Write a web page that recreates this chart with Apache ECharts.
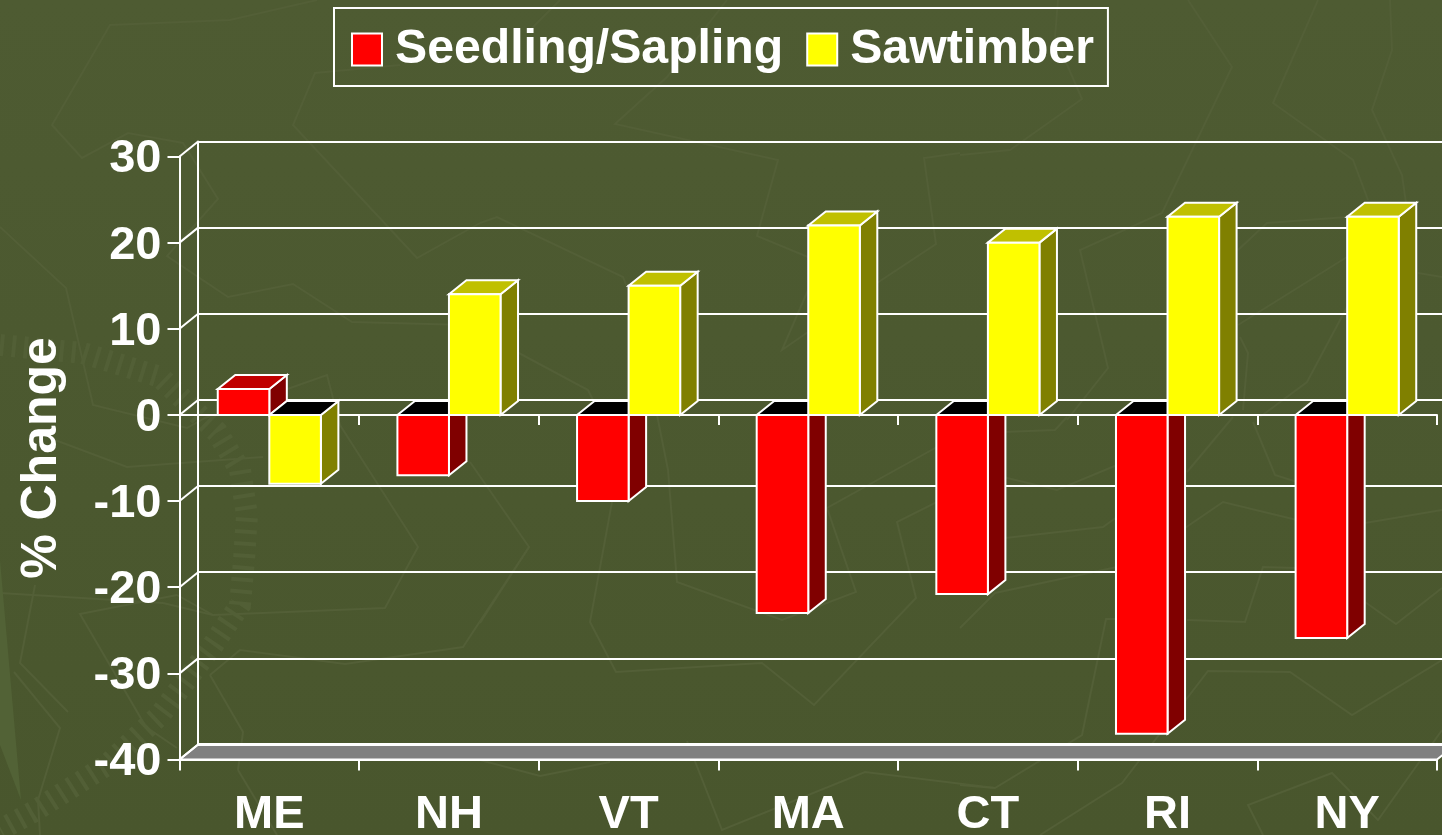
<!DOCTYPE html>
<html><head><meta charset="utf-8">
<style>html,body{margin:0;padding:0;background:#4b582f;overflow:hidden}#c{width:1442px;height:835px}</style>
<script src="https://cdn.jsdelivr.net/npm/echarts@6/dist/echarts.min.js"></script>
</head><body><div id="c"></div>
<script>
const categories = ['ME','NH','VT','MA','CT','RI','NY'];
const seedlingSapling = [3,-7,-10,-23,-20.8,-37,-25.9];
const sawtimber = [-8,14,15,22,20,23,23];
const yTicks = [30,20,10,0,-10,-20,-30,-40];

const FONT = '"Liberation Sans", Arial, sans-serif';
const DEPTH_X = 17.5, DEPTH_Y = 14;
const WALL_X = 18, WALL_Y = 14.5;
const LINE = 2;
const BAR_FRACTION = 0.287;

// Faint decorative lines of the slide background (not chart data)
const decoLines = [
 [[317,0],[230,20],[110,25],[52,125],[82,158],[128,133],[183,143],[218,199],[167,256],[228,297],[293,284],[352,322],[467,325],[520,330]],
 [[0,227],[66,288],[93,405],[187,428],[205,418],[327,375],[340,425],[418,547],[385,608],[213,615],[177,595]],
 [[55,440],[127,467],[263,457]],[[0,593],[163,603],[213,615]],
 [[177,595],[80,614],[146,727],[177,748]],
 [[35,585],[20,663],[68,712]],[[14,672],[60,728],[38,800],[40,835]],
 [[238,770],[243,732],[210,675]],[[238,770],[277,835]],
 [[210,675],[240,650],[345,664],[463,647],[529,547],[470,462]],
 [[529,547],[480,623]],
 [[612,502],[590,622],[616,672],[762,663],[814,705],[916,598],[897,522],[937,502]],
 [[657,415],[668,470],[677,582],[782,620],[856,592],[827,508],[937,447]],
 [[480,760],[540,776],[610,762]],[[687,741],[722,830],[865,772],[995,788],[1082,735],[1106,619],[1117,619]],
 [[960,785],[995,788]],
 [[1040,835],[1122,783],[1208,671],[1290,672],[1352,715],[1442,660]],
 [[1263,835],[1248,805],[1332,773],[1378,820],[1442,730]],
 [[960,628],[995,593],[1117,567]],[[1005,538],[1103,527],[1117,517]],
 [[1003,477],[1057,490],[1117,465]],[[1003,432],[1055,430],[1067,417]],
 [[1185,528],[1223,502],[1297,520]],[[1365,523],[1442,510]],
 [[1187,472],[1233,417]],[[1253,422],[1275,475],[1297,482]],
 [[1187,620],[1245,622],[1263,567],[1297,568]],[[1365,602],[1396,624],[1442,588]],
 [[1188,0],[1232,67],[1162,213],[1080,250],[1108,368],[1067,420]],
 [[1318,0],[1273,103],[1353,160],[1368,200]],
 [[1390,0],[1392,50],[1372,110],[1402,175],[1406,203]],
 [[1058,0],[1055,37],[1082,99],[1010,150],[960,155]],
 [[1238,250],[1267,223],[1347,217]],[[1238,325],[1347,257]],
 [[1240,337],[1248,353],[1243,410]],[[1260,417],[1307,382],[1347,307]],[[1418,273],[1442,277]],
 [[727,0],[667,77],[615,124],[778,160],[757,236],[808,257]],[[560,0],[530,30]],
 [[960,153],[924,158],[936,244],[877,283]],[[808,290],[782,350],[808,332]],
 [[480,223],[497,217],[623,277],[628,290]],[[517,352],[588,390],[593,400]],
 [[400,65],[315,73],[293,125],[417,258],[480,223]]
];
const decoHatch = [[0,345],[83,353],[160,377],[217,432],[240,470],[247,515],[244,560],[240,605],[213,645],[160,715],[107,765],[33,812],[0,830]];

const decoGraphic = decoLines.map(points => ({
  type:'polyline', silent:true, z:-5,
  shape:{points}, style:{stroke:'#535f37',lineWidth:2,fill:null}
}));
decoGraphic.push({type:'polyline',silent:true,z:-5,shape:{points:decoHatch},
  style:{stroke:'#525f36',lineWidth:22,lineDash:[4,8],fill:null}});
decoGraphic.push({type:'polygon',silent:true,z:-5,shape:{points:[[0,560],[21,800],[0,745]]},
  style:{fill:'#526236'}});

function barSeries(name, values, front, side, top, slot){
  return {
    name, type:'custom', xAxisIndex:0, yAxisIndex:0, z:3,
    itemStyle:{color:front},
    data: values.map((v,i)=>[i,v]),
    renderItem(params, api){
      const i = api.value(0), v = api.value(1);
      const band = api.size([1,0])[0];
      const w = band*BAR_FRACTION;
      const xc = api.coord([i,0])[0];
      const x0 = slot===0 ? xc-w : xc, x1 = x0+w;
      const y0 = api.coord([i,0])[1], yv = api.coord([i,v])[1];
      const yTop = Math.min(y0,yv), yBot = Math.max(y0,yv);
      const stroke = {stroke:'#fff',lineWidth:LINE,lineJoin:'miter'};
      const poly = (points,fill)=>({type:'polygon',shape:{points},style:Object.assign({fill},stroke)});
      return {type:'group',children:[
        poly([[x1,yBot],[x1+DEPTH_X,yBot-DEPTH_Y],[x1+DEPTH_X,yTop-DEPTH_Y],[x1,yTop]],side),
        poly([[x0,yTop],[x0+DEPTH_X,yTop-DEPTH_Y],[x1+DEPTH_X,yTop-DEPTH_Y],[x1,yTop]], v<0?'#000':top),
        poly([[x0,yTop],[x1,yTop],[x1,yBot],[x0,yBot]],front)
      ]};
    }
  };
}

const wallSeries = {
  name:'walls', type:'custom', xAxisIndex:0, yAxisIndex:0, z:1, silent:true,
  data: yTicks.map(v=>[0,v]),
  renderItem(params, api){
    const v = api.value(1);
    const cs = params.coordSys;
    const y = api.coord([0,v])[1];
    const kids = [];
    if (v === yTicks[yTicks.length-1]) {
      kids.push({type:'polygon',shape:{points:[[cs.x,y],[cs.x+WALL_X,y-WALL_Y],[cs.x+cs.width+WALL_X,y-WALL_Y],[cs.x+cs.width,y]]},
        style:{fill:'#808080',stroke:'#fff',lineWidth:LINE}});
      kids.push({type:'line',shape:{x1:cs.x+WALL_X,y1:y-WALL_Y-0.5,x2:cs.x+cs.width+WALL_X,y2:y-WALL_Y-0.5},
        style:{stroke:'#fff',lineWidth:3}});
    }
    kids.push({type:'line',shape:{x1:cs.x,y1:y,x2:cs.x+WALL_X,y2:y-WALL_Y},style:{stroke:'#fff',lineWidth:LINE}});
    return {type:'group',children:kids};
  }
};

const whiteLine = {lineStyle:{color:'#fff',width:LINE}};
const option = {
  animation:false,
  backgroundColor:new echarts.graphic.LinearGradient(0,0,0,1,[{offset:0,color:'#4e5b32'},{offset:1,color:'#49562d'}]),
  graphic:{elements:decoGraphic},
  legend:{
    data:['Seedling/Sapling','Sawtimber'], left:334, top:8, orient:'horizontal',
    padding:[9.5,14,4.5,17], itemGap:23, itemWidth:30, itemHeight:32, icon:'rect',
    borderColor:'#fff', borderWidth:2,
    itemStyle:{borderColor:'#fff',borderWidth:2},
    textStyle:{color:'#fff',fontFamily:FONT,fontWeight:'bold',fontSize:48.2,lineHeight:48,padding:[16,0,0,8]}
  },
  grid:[
    {left:179.5,right:5,top:156.5,bottom:75.5,outerBoundsMode:'none'},
    {left:179.5+WALL_X,right:5-WALL_X,top:156.5-WALL_Y-0.5,bottom:75.5+WALL_Y+0.5,outerBoundsMode:'none'}
  ],
  xAxis:[
    {type:'category',gridIndex:0,data:categories,position:'bottom',
     axisLine:Object.assign({onZero:false,show:true},whiteLine),
     axisTick:Object.assign({show:true,length:11,alignWithLabel:false},whiteLine),
     axisLabel:{color:'#fff',fontFamily:FONT,fontWeight:'bold',fontSize:47,margin:32,interval:0}},
    {type:'category',gridIndex:0,data:categories,position:'top',
     axisLine:Object.assign({onZero:true,show:true},whiteLine),
     axisTick:Object.assign({show:true,inside:true,length:10},whiteLine),
     axisLabel:{show:false}},
    {type:'category',gridIndex:1,data:categories,show:false}
  ],
  yAxis:[
    {type:'value',gridIndex:0,min:-40,max:30,interval:10,position:'left',
     name:'% Change',nameLocation:'middle',nameGap:112,nameRotate:90,
     nameTextStyle:{color:'#fff',fontFamily:FONT,fontWeight:'bold',fontSize:50},
     axisLine:Object.assign({show:true,onZero:false},whiteLine),
     axisTick:Object.assign({show:true,length:12},whiteLine),
     splitLine:{show:false},
     axisLabel:{color:'#fff',fontFamily:FONT,fontWeight:'bold',fontSize:47,margin:18,verticalAlign:'top',lineHeight:6}},
    {type:'value',gridIndex:1,min:-40,max:30,interval:10,position:'left',
     axisLine:Object.assign({show:true,onZero:false},whiteLine),
     axisTick:{show:false},axisLabel:{show:false},
     splitLine:{show:true,lineStyle:{color:'#fff',width:LINE}}}
  ],
  series:[
    wallSeries,
    barSeries('Seedling/Sapling',seedlingSapling,'#ff0000','#800000','#c00000',0),
    barSeries('Sawtimber',sawtimber,'#ffff00','#808000','#c0c000',1)
  ]
};
const chart = echarts.init(document.getElementById('c'),null,{renderer:'canvas',width:1442,height:835});
chart.setOption(option);
</script></body></html>
